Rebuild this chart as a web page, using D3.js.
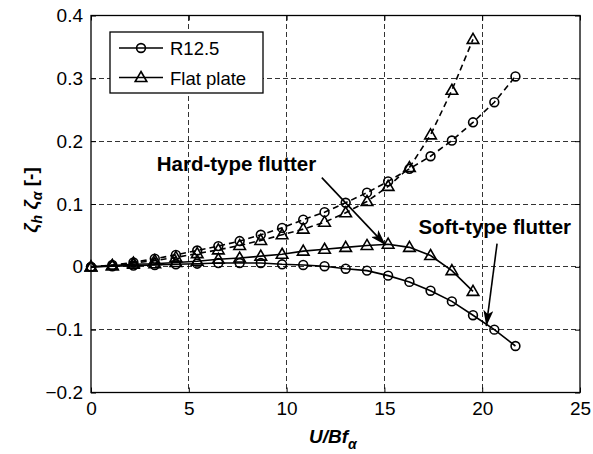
<!DOCTYPE html>
<html>
<head>
<meta charset="utf-8">
<script src="https://cdn.jsdelivr.net/npm/d3@7"></script>
<style>
  html, body { margin: 0; padding: 0; background: #fff; }
  svg { display: block; font-family: "Liberation Sans", Arial, sans-serif; }
</style>
</head>
<body>
<svg id="chart" width="593" height="454"></svg>
<script>
// Reduced wind speed U/(B f_alpha)
const reducedSpeed = [0, 1.09, 2.17, 3.26, 4.34, 5.43, 6.51, 7.60, 8.68, 9.77, 10.85,
                      11.94, 13.02, 14.11, 15.19, 16.28, 17.36, 18.45, 19.53, 20.62, 21.70];

// R12.5 section: heaving (dashed) and torsional (solid) damping ratios
const r125Heave = [0, 0.003, 0.007, 0.013, 0.019, 0.026, 0.033, 0.041, 0.051, 0.062, 0.075,
                   0.087, 0.102, 0.118, 0.136, 0.156, 0.176, 0.201, 0.230, 0.262, 0.303];
const r125Torsion = [0, 0.001, 0.002, 0.003, 0.004, 0.005, 0.006, 0.006, 0.006, 0.004, 0.003,
                     0.001, -0.003, -0.006, -0.014, -0.024, -0.038, -0.055, -0.077, -0.100, -0.126];

// Flat plate: heaving (dashed) and torsional (solid) damping ratios
const flatHeave = [0, 0.002, 0.006, 0.010, 0.015, 0.021, 0.027, 0.034, 0.042, 0.051, 0.060,
                   0.071, 0.086, 0.104, 0.128, 0.158, 0.210, 0.281, 0.362];
const flatTorsion = [0, 0.002, 0.004, 0.005, 0.007, 0.009, 0.012, 0.014, 0.017, 0.020, 0.025,
                     0.028, 0.031, 0.034, 0.036, 0.031, 0.018, -0.006, -0.039];

const xTicks = [0, 5, 10, 15, 20, 25];
const yTicks = [-0.2, -0.1, 0, 0.1, 0.2, 0.3, 0.4];
const legendNames = ["R12.5", "Flat plate"];

const svg = d3.select("#chart");
const plot = { left: 91, right: 580, top: 15.5, bottom: 392.5 };

const x = d3.scaleLinear().domain([0, 25]).range([plot.left, plot.right]);
const y = d3.scaleLinear().domain([-0.2, 0.4]).range([plot.bottom, plot.top]);

// arrowhead marker
svg.append("defs").append("marker")
  .attr("id", "arrowhead")
  .attr("viewBox", "0 0 16 10")
  .attr("refX", 16).attr("refY", 5)
  .attr("markerWidth", 16).attr("markerHeight", 10)
  .attr("markerUnits", "userSpaceOnUse")
  .attr("orient", "auto")
  .append("path")
  .attr("d", "M0,0 L16,5 L0,10 L4,5 Z")
  .attr("fill", "#000");

// grid
const grid = svg.append("g").attr("stroke", "#000").attr("stroke-width", 0.8)
  .attr("stroke-dasharray", "5,3").attr("shape-rendering", "crispEdges");
xTicks.filter(t => t > 0 && t < 25).forEach(t => {
  grid.append("line").attr("x1", x(t)).attr("x2", x(t)).attr("y1", plot.top).attr("y2", plot.bottom);
});
yTicks.filter(t => t > -0.2 && t < 0.4).forEach(t => {
  grid.append("line").attr("x1", plot.left).attr("x2", plot.right).attr("y1", y(t)).attr("y2", y(t));
});

// axes (inward ticks, box)
const tickFont = 19;
const xAxis = svg.append("g").attr("transform", `translate(0,${plot.bottom})`)
  .call(d3.axisBottom(x).tickValues(xTicks).tickSizeInner(-5).tickSizeOuter(0).tickPadding(9)
        .tickFormat(d3.format("d")));
const yAxis = svg.append("g").attr("transform", `translate(${plot.left},0)`)
  .call(d3.axisLeft(y).tickValues(yTicks).tickSizeInner(-5).tickSizeOuter(0).tickPadding(8)
        .tickFormat(d => d === 0 ? "0" : d3.format(".1f")(d)));
const xTop = svg.append("g").attr("transform", `translate(0,${plot.top})`)
  .call(d3.axisTop(x).tickValues(xTicks).tickSizeInner(-5).tickSizeOuter(0).tickFormat(""));
const yRight = svg.append("g").attr("transform", `translate(${plot.right},0)`)
  .call(d3.axisRight(y).tickValues(yTicks).tickSizeInner(-5).tickSizeOuter(0).tickFormat(""));
[xAxis, yAxis, xTop, yRight].forEach(g => {
  g.select(".domain").remove();
  g.selectAll("line").attr("stroke", "#000");
  g.selectAll("text").attr("font-size", tickFont).attr("fill", "#000")
    .attr("font-family", "'Liberation Sans', Arial, sans-serif");
});
svg.append("rect").attr("x", plot.left).attr("y", plot.top)
  .attr("width", plot.right - plot.left).attr("height", plot.bottom - plot.top)
  .attr("fill", "none").attr("stroke", "#000").attr("stroke-width", 1.3);

// series
const series = [
  { values: r125Heave, dash: "6,4", marker: "circle" },
  { values: flatHeave, dash: "6,4", marker: "triangle" },
  { values: r125Torsion, dash: null, marker: "circle" },
  { values: flatTorsion, dash: null, marker: "triangle" }
];
const line = d3.line().x(d => x(d[0])).y(d => y(d[1]));
const triPath = "M0,-6 L5.8,4 L-5.8,4 Z";

function drawMarker(g, type, cx, cy) {
  if (type === "circle") {
    g.append("circle").attr("cx", cx).attr("cy", cy).attr("r", 4.4)
      .attr("fill", "none").attr("stroke", "#000").attr("stroke-width", 1.6);
  } else {
    g.append("path").attr("d", triPath).attr("transform", `translate(${cx},${cy})`)
      .attr("fill", "none").attr("stroke", "#000").attr("stroke-width", 1.6)
      .attr("stroke-linejoin", "miter");
  }
}

series.forEach(s => {
  const pts = s.values.map((v, i) => [reducedSpeed[i], v]);
  svg.append("path").datum(pts).attr("d", line)
    .attr("fill", "none").attr("stroke", "#000").attr("stroke-width", 1.6)
    .attr("stroke-dasharray", s.dash);
  const mg = svg.append("g");
  pts.forEach(p => drawMarker(mg, s.marker, x(p[0]), y(p[1])));
});

// annotations
const annFont = 20.5;
svg.append("text").attr("x", x(3.36)).attr("y", y(0.153))
  .attr("font-size", annFont).attr("font-weight", "bold").text("Hard-type flutter");
svg.append("line").attr("x1", x(11.8)).attr("y1", y(0.142)).attr("x2", x(15.06)).attr("y2", y(0.0346))
  .attr("stroke", "#000").attr("stroke-width", 1.6).attr("marker-end", "url(#arrowhead)");
svg.append("text").attr("x", x(16.74)).attr("y", y(0.053))
  .attr("font-size", annFont).attr("font-weight", "bold").text("Soft-type flutter");
svg.append("line").attr("x1", x(20.76)).attr("y1", y(0.037)).attr("x2", x(20.21)).attr("y2", y(-0.0944))
  .attr("stroke", "#000").attr("stroke-width", 1.6).attr("marker-end", "url(#arrowhead)");

// legend
const legend = svg.append("g");
legend.append("rect").attr("x", 110).attr("y", 32).attr("width", 153).attr("height", 61)
  .attr("fill", "#fff").attr("stroke", "#000").attr("stroke-width", 1.3);
legendNames.forEach((name, i) => {
  const ly = 48 + i * 29.5;
  legend.append("line").attr("x1", 119).attr("x2", 163).attr("y1", ly).attr("y2", ly)
    .attr("stroke", "#000").attr("stroke-width", 1.6);
  drawMarker(legend, i === 0 ? "circle" : "triangle", 141, ly);
  legend.append("text").attr("x", 170).attr("y", ly + 7).attr("font-size", 18.5).text(name);
});

// axis titles
const xt = svg.append("text").attr("x", 309).attr("y", 443)
  .attr("font-size", 19).attr("font-weight", "bold").attr("font-style", "italic");
xt.append("tspan").text("U/Bf");
xt.append("tspan").attr("dy", 6).attr("font-size", 14).text("α");

const yt = svg.append("text")
  .attr("transform", `translate(37,${(plot.top + plot.bottom) / 2 - 4}) rotate(-90)`)
  .attr("text-anchor", "middle")
  .attr("font-size", 19).attr("font-weight", "bold").attr("font-style", "italic");
yt.append("tspan").text("ζ");
yt.append("tspan").attr("dy", 5).attr("font-size", 14).text("h");
yt.append("tspan").attr("dy", -5).text(" ζ");
yt.append("tspan").attr("dy", 5).attr("font-size", 14).text("α");
yt.append("tspan").attr("dy", -5).attr("font-style", "normal").text(" [-]");
</script>
</body>
</html>
